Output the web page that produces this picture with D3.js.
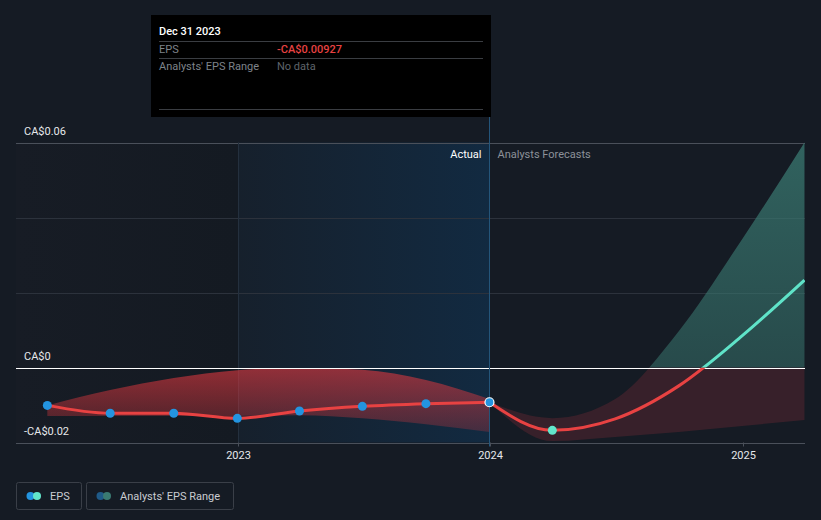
<!DOCTYPE html>
<html>
<head>
<meta charset="utf-8">
<script src="https://cdn.jsdelivr.net/npm/d3@7/dist/d3.min.js"></script>
<style>
  html, body { margin: 0; padding: 0; background: #151b24; }
  svg { display: block; font-family: Roboto, "Noto Sans", sans-serif; }
</style>
</head>
<body>
<svg id="chart" width="821" height="520"></svg>
<script>
// ---- data ----
const actualDates = ["2022-03-31","2022-06-30","2022-09-30","2022-12-31","2023-03-31","2023-06-30","2023-09-30","2023-12-31"];
const actualEps = [-0.0101, -0.0122, -0.0122, -0.01355, -0.0116, -0.01035, -0.00965, -0.00927];
const actualRangeLow = [-0.0129, -0.0129, -0.0129, -0.0129, -0.0127, -0.0135, -0.0151, -0.0172];
const actualRangeHigh = [-0.0101, -0.0060, -0.0028, -0.0007, -0.0001, -0.0006, -0.0033, -0.0084];

const forecastDates = ["2023-12-31","2024-03-31","2024-06-30","2024-09-30","2024-12-31","2025-03-31"];
const forecastEps = [-0.00927, -0.01675, -0.0137, -0.0049, 0.0085, 0.0233];
const forecastLow = [-0.00927, -0.0196, -0.0185, -0.0172, -0.0156, -0.0140];
const forecastHigh = [-0.00927, -0.0135, -0.0084, 0.0097, 0.0343, 0.0600];

const yTickValues = [0.06, 0, -0.02];
const yTickLabels = ["CA$0.06", "CA$0", "-CA$0.02"];
const yGridValues = [0.06, 0.04, 0.02, 0, -0.02];
const xTickYears = ["2023", "2024", "2025"];

const tooltipTitle = "Dec 31 2023";
const tooltipRows = [["EPS", "-CA$0.00927"], ["Analysts' EPS Range", "No data"]];
const legendItems = ["EPS", "Analysts' EPS Range"];

// ---- setup ----
const parse = d3.timeParse("%Y-%m-%d");
const svg = d3.select("#chart");
const pLeft = 16, pRight = 805, pTop = 142.5, pBottom = 442.5;

const x = d3.scaleTime()
  .domain([parse("2023-01-01"), parse("2025-01-01")])
  .range([238, 743]);
const y = d3.scaleLinear().domain([-0.02, 0.06]).range([pBottom, pTop]);

const actual = actualDates.map((d, i) => ({ date: parse(d), v: actualEps[i], lo: actualRangeLow[i], hi: actualRangeHigh[i] }));
const forecast = forecastDates.map((d, i) => ({ date: parse(d), v: forecastEps[i], lo: forecastLow[i], hi: forecastHigh[i] }));

const defs = svg.append("defs");
const gBlue = defs.append("linearGradient").attr("id", "pastBlue").attr("x1", 0).attr("x2", 1).attr("y1", 0).attr("y2", 0);
gBlue.append("stop").attr("offset", 0).attr("stop-color", "#16202c");
gBlue.append("stop").attr("offset", 1).attr("stop-color", "#122a41");
const gLeft = defs.append("linearGradient").attr("id", "leftBg").attr("x1", 0).attr("x2", 1).attr("y1", 0).attr("y2", 0);
gLeft.append("stop").attr("offset", 0).attr("stop-color", "#171c25");
gLeft.append("stop").attr("offset", 1).attr("stop-color", "#141a22");
const gRed = defs.append("linearGradient").attr("id", "redBand").attr("gradientUnits", "userSpaceOnUse")
  .attr("x1", 0).attr("x2", 0).attr("y1", y(0)).attr("y2", y(-0.018));
gRed.append("stop").attr("offset", 0).attr("stop-color", "#e0383f").attr("stop-opacity", 0.62);
gRed.append("stop").attr("offset", 1).attr("stop-color", "#e0383f").attr("stop-opacity", 0.22);
const gTeal = defs.append("linearGradient").attr("id", "tealBand").attr("gradientUnits", "userSpaceOnUse")
  .attr("x1", 0).attr("x2", 0).attr("y1", pTop).attr("y2", y(0));
gTeal.append("stop").attr("offset", 0).attr("stop-color", "#3a7a72").attr("stop-opacity", 0.75);
gTeal.append("stop").attr("offset", 1).attr("stop-color", "#3a7a72").attr("stop-opacity", 0.5);

defs.append("clipPath").attr("id", "clipAbove").append("rect")
  .attr("x", pLeft).attr("y", 0).attr("width", pRight - pLeft).attr("height", y(0));
defs.append("clipPath").attr("id", "clipBelow").append("rect")
  .attr("x", pLeft).attr("y", y(0)).attr("width", pRight - pLeft).attr("height", 520 - y(0));
defs.append("clipPath").attr("id", "clipPlot").append("rect")
  .attr("x", pLeft).attr("y", pTop - 5).attr("width", pRight - pLeft).attr("height", pBottom - pTop + 5);

// backgrounds
svg.append("rect").attr("x", pLeft).attr("y", pTop).attr("width", x(parse("2023-01-01")) - pLeft).attr("height", pBottom - pTop).attr("fill", "url(#leftBg)");
svg.append("rect").attr("x", x(parse("2023-01-01"))).attr("y", pTop).attr("width", x(parse("2023-12-31")) - x(parse("2023-01-01"))).attr("height", pBottom - pTop).attr("fill", "url(#pastBlue)");

// gridlines
svg.append("g").selectAll("line").data(yGridValues).join("line")
  .attr("x1", pLeft).attr("x2", pRight)
  .attr("y1", d => Math.round(y(d)) + 0.5).attr("y2", d => Math.round(y(d)) + 0.5)
  .attr("stroke", d => d === 0 ? "#ffffff" : (d === -0.02 || d === 0.06 ? "#4a505a" : "#2c323c"))
  .attr("stroke-width", 1);

// vertical line at 2023
svg.append("line").attr("x1", Math.round(x(parse("2023-01-01"))) + 0.5).attr("x2", Math.round(x(parse("2023-01-01"))) + 0.5)
  .attr("y1", pTop).attr("y2", pBottom).attr("stroke", "#24303e");

// bands
const area = d3.area().x(d => x(d.date)).y0(d => y(d.lo)).y1(d => y(d.hi)).curve(d3.curveMonotoneX);
svg.append("path").datum(actual).attr("d", area).attr("fill", "url(#redBand)");
const fg = svg.append("g").attr("clip-path", "url(#clipPlot)");
fg.append("path").datum(forecast).attr("d", area).attr("fill", "#5a2630").attr("fill-opacity", 0.5).attr("clip-path", "url(#clipBelow)");
fg.append("path").datum(forecast).attr("d", area).attr("fill", "url(#tealBand)").attr("clip-path", "url(#clipAbove)");

// redraw zero line over bands
svg.append("line").attr("x1", pLeft).attr("x2", pRight).attr("y1", Math.round(y(0)) + 0.5).attr("y2", Math.round(y(0)) + 0.5)
  .attr("stroke", "#ffffff").attr("stroke-width", 1);

// lines
const line = d3.line().x(d => x(d.date)).y(d => y(d.v)).curve(d3.curveMonotoneX);
[actual, forecast].forEach(data => {
  svg.append("path").datum(data).attr("d", line).attr("fill", "none").attr("stroke", "#e84242").attr("stroke-width", 3).attr("clip-path", "url(#clipBelow)");
  svg.append("path").datum(data).attr("d", line).attr("fill", "none").attr("stroke", "#5fe3c8").attr("stroke-width", 3).attr("clip-path", "url(#clipAbove)");
});

// vertical cursor line at Dec 31 2023
const cx = Math.round(x(parse("2023-12-31"))) + 0.5;
svg.append("line").attr("x1", cx).attr("x2", cx).attr("y1", 117).attr("y2", pBottom + 4).attr("stroke", "#24557a").attr("stroke-width", 1);

// dots
svg.append("g").selectAll("circle").data(actual).join("circle")
  .attr("cx", d => x(d.date)).attr("cy", d => y(d.v)).attr("r", 4.5)
  .attr("fill", "#2394e0")
  .attr("stroke", (d, i) => i === actual.length - 1 ? "#ffffff" : "none")
  .attr("stroke-width", 1.2);
svg.append("circle").attr("cx", x(forecast[1].date)).attr("cy", y(forecast[1].v)).attr("r", 4.5).attr("fill", "#62e6cb");

// y labels
svg.append("g").selectAll("text").data(yTickValues).join("text")
  .attr("x", 24).attr("y", d => y(d) - 8)
  .attr("fill", "#e6e8eb").attr("font-size", 11)
  .text((d, i) => yTickLabels[i]);

// x ticks & labels
const xt = svg.append("g");
xTickYears.forEach(yr => {
  const px = Math.round(x(parse(yr + "-01-01"))) + 0.5;
  xt.append("line").attr("x1", px).attr("x2", px).attr("y1", pBottom).attr("y2", pBottom + 4).attr("stroke", "#4a505a");
  xt.append("text").attr("x", px).attr("y", 459).attr("text-anchor", "middle").attr("fill", "#e6e8eb").attr("font-size", 11).text(yr);
});

// Actual / Forecast labels
svg.append("text").attr("x", cx - 8).attr("y", 158).attr("text-anchor", "end").attr("fill", "#ffffff").attr("font-size", 11).text("Actual");
svg.append("text").attr("x", cx + 8).attr("y", 158).attr("fill", "#8c9199").attr("font-size", 11).text("Analysts Forecasts");

// tooltip
const tt = svg.append("g");
tt.append("rect").attr("x", 151).attr("y", 15).attr("width", 340).attr("height", 102).attr("fill", "#000000");
tt.append("text").attr("x", 159).attr("y", 35).attr("fill", "#ffffff").attr("font-size", 11).attr("font-weight", 500).text(tooltipTitle);
[41.5, 58.5, 109.5].forEach(yy => tt.append("line").attr("x1", 159).attr("x2", 483).attr("y1", yy).attr("y2", yy).attr("stroke", "#3a3d42"));
tooltipRows.forEach((r, i) => {
  tt.append("text").attr("x", 159).attr("y", 53 + i * 17).attr("fill", "#7e838a").attr("font-size", 11).text(r[0]);
  tt.append("text").attr("x", 277).attr("y", 53 + i * 17).attr("fill", i === 0 ? "#e84242" : "#5f646b").attr("font-size", 11).attr("font-weight", i === 0 ? 500 : 400).text(r[1]);
});

// legend
const lg = svg.append("g");
const boxes = [{ x: 16.5, w: 65, dots: ["#2394e0", "#62e6cb"] }, { x: 86.5, w: 147, dots: ["#1f5a88", "#3a7a72"] }];
boxes.forEach((b, i) => {
  lg.append("rect").attr("x", b.x).attr("y", 482.5).attr("width", b.w).attr("height", 27).attr("rx", 2).attr("fill", "none").attr("stroke", "#3a3f48");
  lg.append("circle").attr("cx", b.x + 14).attr("cy", 496).attr("r", 4).attr("fill", b.dots[0]);
  lg.append("circle").attr("cx", b.x + 20.5).attr("cy", 496).attr("r", 4).attr("fill", b.dots[1]);
  lg.append("text").attr("x", b.x + 33.5).attr("y", 500).attr("fill", "#c9ccd1").attr("font-size", 11).text(legendItems[i]);
});
</script>
</body>
</html>
